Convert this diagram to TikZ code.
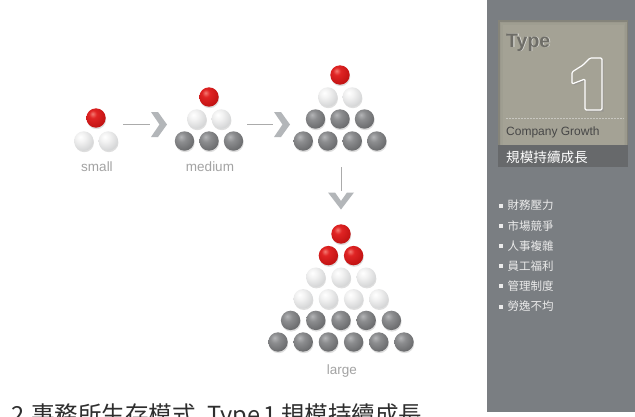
\documentclass[tikz,border=0pt]{standalone}
\usepackage{fontspec}
\setmainfont{Liberation Sans}
\newfontfamily\cjk{Noto Sans CJK TC}
\usetikzlibrary{calc}
\definecolor{rb1}{HTML}{F47A72}
\definecolor{rb2}{HTML}{E02424}
\definecolor{rb3}{HTML}{C41414}
\definecolor{rb4}{HTML}{8E0C0C}
\definecolor{lb1}{HTML}{FFFFFF}
\definecolor{lb2}{HTML}{F2F2F2}
\definecolor{lb3}{HTML}{D2D3D4}
\definecolor{lb4}{HTML}{A6A7A9}
\definecolor{db1}{HTML}{B4B5B7}
\definecolor{db2}{HTML}{8C8D8F}
\definecolor{db3}{HTML}{646567}
\definecolor{db4}{HTML}{444546}
\definecolor{panelgray}{HTML}{7A7E82}
\definecolor{khaki}{HTML}{A4A295}
\definecolor{khakidark}{HTML}{85847A}
\definecolor{bandgray}{HTML}{67696B}
\definecolor{chevgray}{HTML}{B3B6B9}
\definecolor{linegray}{HTML}{ABABAB}
\definecolor{labelgray}{HTML}{A3A3A3}
\definecolor{typegray}{HTML}{6E6D67}
\pgfdeclareradialshading{redball}{\pgfpoint{-9bp}{11bp}}{color(0bp)=(rb1); color(10bp)=(rb2); color(30bp)=(rb3); color(62bp)=(rb4); color(100bp)=(rb4)}
\pgfdeclareradialshading{lightball}{\pgfpoint{-9bp}{11bp}}{color(0bp)=(lb1); color(12bp)=(lb2); color(34bp)=(lb3); color(62bp)=(lb4); color(100bp)=(lb4)}
\pgfdeclareradialshading{darkball}{\pgfpoint{-9bp}{11bp}}{color(0bp)=(db1); color(12bp)=(db2); color(36bp)=(db3); color(62bp)=(db4); color(100bp)=(db4)}
\tikzset{
  ball/.style={circle, minimum size=19.4pt, inner sep=0pt, outer sep=0pt},
  rball/.style={ball, shading=redball},
  lball/.style={ball, shading=lightball},
  dball/.style={ball, shading=darkball},
  ballshadow/.style={fill=black, opacity=0.13},
  conn/.style={draw=linegray, line width=0.9pt},
  chevfill/.style={fill=chevgray},
  sizelabel/.style={text=labelgray, font=\fontsize{13.5}{16}\selectfont},
  bullettext/.style={anchor=west, text=white!92!black, font=\cjk\fontsize{11.5}{13}\selectfont, inner sep=0pt},
  bulletsq/.style={fill=white!92!black},
  bigtext/.style={anchor=base west, inner sep=0pt, text=black!82, font=\cjk\fontsize{23.5}{26}\selectfont},
}
\newcommand\ballrow[6]{%
  \foreach \i in {1,...,#2}{%
    \pgfmathsetmacro\bx{#3+(\i-(#2+1)/2)*#5}%
    \fill[ballshadow] (\bx+0.6,#4+1.6) circle (9.6);
    \node[#1] (#6-\i) at (\bx,#4) {};
  }}
\begin{document}
\begin{tikzpicture}[x=1pt,y=-1pt]
\useasboundingbox (0,0) rectangle (635,416);
\clip (0,0) rectangle (635,416);
\fill[white] (0,0) rectangle (635,416);
% ---------- small
\ballrow{rball}{1}{96}{118}{24.5}{s1}
\ballrow{lball}{2}{96}{141}{24.5}{s2}
\node[sizelabel] (lsmall) at (97,167) {small};
% ---------- medium
\ballrow{rball}{1}{209}{97}{24.5}{m1}
\ballrow{lball}{2}{209}{119}{24.5}{m2}
\ballrow{dball}{3}{209}{141}{24.5}{m3}
\node[sizelabel] (lmedium) at (210,167) {medium};
% ---------- big (top right)
\ballrow{rball}{1}{340}{75}{24.5}{b1}
\ballrow{lball}{2}{340}{97}{24.5}{b2}
\ballrow{dball}{3}{340}{119}{24.5}{b3}
\ballrow{dball}{4}{340}{141}{24.5}{b4}
% ---------- large
\ballrow{rball}{1}{341}{234}{25.2}{L1}
\ballrow{rball}{2}{341}{255.6}{25.2}{L2}
\ballrow{lball}{3}{341}{277.2}{25.2}{L3}
\ballrow{lball}{4}{341}{298.8}{25.2}{L4}
\ballrow{dball}{5}{341}{320.4}{25.2}{L5}
\ballrow{dball}{6}{341}{342}{25.2}{L6}
\node[sizelabel] (llarge) at (342,371) {large};
% ---------- arrows
\coordinate (a1s) at (123,124.5);
\coordinate (a1e) at (150,124.5);
\draw[conn] (a1s) -- (a1e);
\fill[chevfill] (151,112) -- (158,112) -- (167,124.5) -- (158,137) -- (151,137) -- (159.5,124.5) -- cycle;
\coordinate (a2s) at (247,124.5);
\coordinate (a2e) at (273,124.5);
\draw[conn] (a2s) -- (a2e);
\fill[chevfill] (274,112) -- (281,112) -- (290,124.5) -- (281,137) -- (274,137) -- (282.5,124.5) -- cycle;
\coordinate (a3s) at (341,167);
\coordinate (a3e) at (341,191);
\draw[conn] (a3s) -- (a3e);
\fill[chevfill] (328,192.5) -- (335,192.5) -- (341,201) -- (347,192.5) -- (354,192.5) -- (341,209.5) -- cycle;
% ---------- right panel
\fill[panelgray] (487,0) rectangle (635,412);
\fill[khakidark] (498,20) rectangle (628,145);
\fill[khaki!70!khakidark] (499.5,21.5) rectangle (626.5,145);
\fill[khaki!85!khakidark] (501,23) rectangle (625,145);
\fill[khaki] (502.5,24.5) rectangle (623.5,145);
\fill[bandgray] (498,145) rectangle (628,167);
\node[anchor=base west, inner sep=0pt, text=white!75!khaki, font=\bfseries\fontsize{19.5}{22}\selectfont] (typeshade) at (506.8,47.8) {Type};
\node[anchor=base west, inner sep=0pt, text=typegray, font=\bfseries\fontsize{19.5}{22}\selectfont] (type) at (506,47) {Type};
\fill[black!45, opacity=0.5] (591,59.5) -- (603.5,59.5) -- (603.5,111.5) -- (586.5,111.5) -- (586.5,80.5) -- (573.5,85.5) -- (573.5,73.5) -- (584.5,66.5) -- cycle;
\filldraw[fill=khaki, draw=white, line width=1.2pt, rounded corners=1.2pt] (590,58) -- (602,58) -- (602,110) -- (585,110) -- (585,79) -- (572,84) -- (572,72) -- (583,65) -- cycle;
\draw[khaki!60!white, dashed, dash pattern=on 1.5pt off 1.5pt, line width=0.5pt] (506,118) -- (624,118);
\node[anchor=west, inner sep=0pt, text=black!72, font=\fontsize{12}{14}\selectfont] (cg) at (506,132) {Company Growth};
\node[anchor=west, inner sep=0pt, text=white, font=\cjk\fontsize{13.6}{15}\selectfont] (cgzh) at (506,157) {規模持續成長};
\foreach \t [count=\k from 0] in {財務壓力,市場競爭,人事複雜,員工福利,管理制度,勞逸不均}{%
  \pgfmathsetmacro\yy{205.5+\k*20.2}%
  \fill[bulletsq] (498.5,\yy-2) rectangle (502.5,\yy+2);
  \node[bullettext] (item\k) at (507.5,\yy) {\t};
}
% ---------- bottom title (cut off)
\node[bigtext] (t1) at (11,423) {2};
\node[bigtext] (t2) at (31,423) {事務所生存模式};
\node[bigtext] (t3) at (207,423) {Type};
\node[bigtext] (t4) at (263,423) {1};
\node[bigtext] (t5) at (281,423) {規模持續成長};
\end{tikzpicture}
\end{document}
